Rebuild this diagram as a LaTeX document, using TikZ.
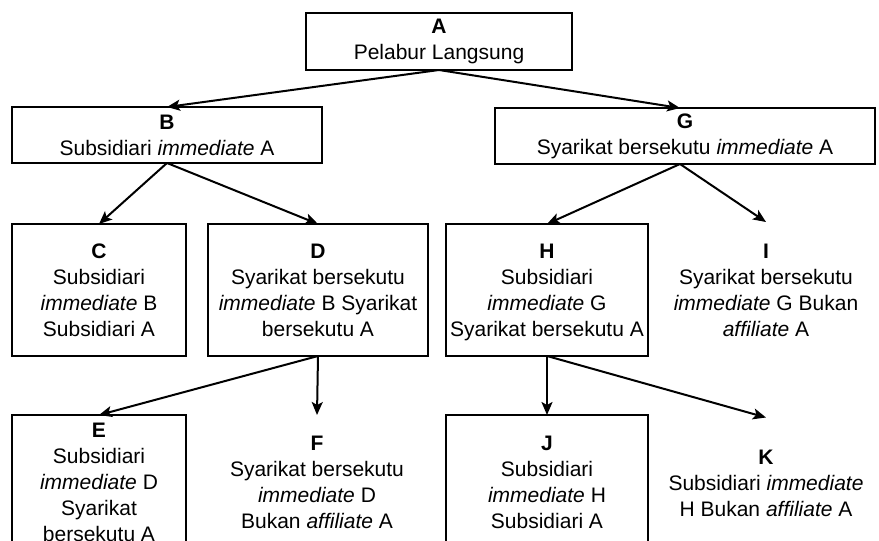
\documentclass[tikz,border=0pt]{standalone}
\usepackage{fontspec}
\setmainfont{Liberation Sans}
\usetikzlibrary{arrows.meta}
\begin{document}
\begin{tikzpicture}[x=1pt,y=-1pt,
  txt/.style={align=center,inner sep=0pt,outer sep=0pt,font=\fontsize{21}{26}\selectfont},
  box/.style={txt,draw=black,line width=2pt,rectangle},
  arr/.style={line width=2pt,-{Stealth[length=13pt,width=11pt,inset=3pt]}}]
\useasboundingbox (0,0) rectangle (879,541);
\clip (0,0) rectangle (879,541);
\fill[white] (0,0) rectangle (879,541);
% row 1
\node[box,minimum width=266pt,minimum height=57pt] (A) at (439,41.5) {\textbf{A}\\Pelabur Langsung};
% row 2
\node[box,minimum width=310pt,minimum height=56pt] (B) at (167,135) {\textbf{B}\\Subsidiari \textit{immediate} A};
\node[box,minimum width=380pt,minimum height=56pt] (G) at (685,136) {\textbf{G}\\Syarikat bersekutu \textit{immediate} A};
% row 3
\node[box,minimum width=174pt,minimum height=132pt] (C) at (99,290) {\textbf{C}\\Subsidiari\\\textit{immediate} B\\Subsidiari A};
\node[box,minimum width=220pt,minimum height=132pt] (D) at (318,290) {\textbf{D}\\Syarikat bersekutu\\\textit{immediate} B Syarikat\\bersekutu A};
\node[box,minimum width=202pt,minimum height=132pt] (H) at (547,290) {\textbf{H}\\Subsidiari\\\textit{immediate} G\\\raisebox{0pt}[\height][0pt]{Syarikat bersekutu A}};
\node[txt,minimum width=202pt,minimum height=136pt] (I) at (766,290) {\textbf{I}\\Syarikat bersekutu\\\textit{immediate} G Bukan\\\textit{affiliate} A};
% row 4
\node[box,minimum width=174pt,minimum height=135pt] (E) at (99,482.5) {\textbf{E}\\Subsidiari\\\textit{immediate} D\\Syarikat\\bersekutu A};
\node[txt,minimum width=200pt,minimum height=135pt] (F) at (317,482.5) {\textbf{F}\\Syarikat bersekutu\\\textit{immediate} D\\Bukan \textit{affiliate} A};
\node[box,minimum width=202pt,minimum height=135pt] (J) at (547,482.5) {\textbf{J}\\Subsidiari\\\textit{immediate} H\\Subsidiari A};
\node[txt,minimum width=200pt,minimum height=131pt] (K) at (766,483) {\textbf{K}\\Subsidiari \textit{immediate}\\H Bukan \textit{affiliate} A};
% connectors
\draw[arr] (A.south) -- (B.north);
\draw[arr] (A.south) -- ([xshift=-5pt]G.north);
\draw[arr] (B.south) -- (C.north);
\draw[arr] (B.south) -- (D.north);
\draw[arr] ([xshift=-5pt]G.south) -- (H.north);
\draw[arr] ([xshift=-5pt]G.south) -- (I.north);
\draw[arr] (D.south) -- (E.north);
\draw[arr] (D.south) -- (F.north);
\draw[arr] (H.south) -- (J.north);
\draw[arr] (H.south) -- (K.north);
\end{tikzpicture}
\end{document}
